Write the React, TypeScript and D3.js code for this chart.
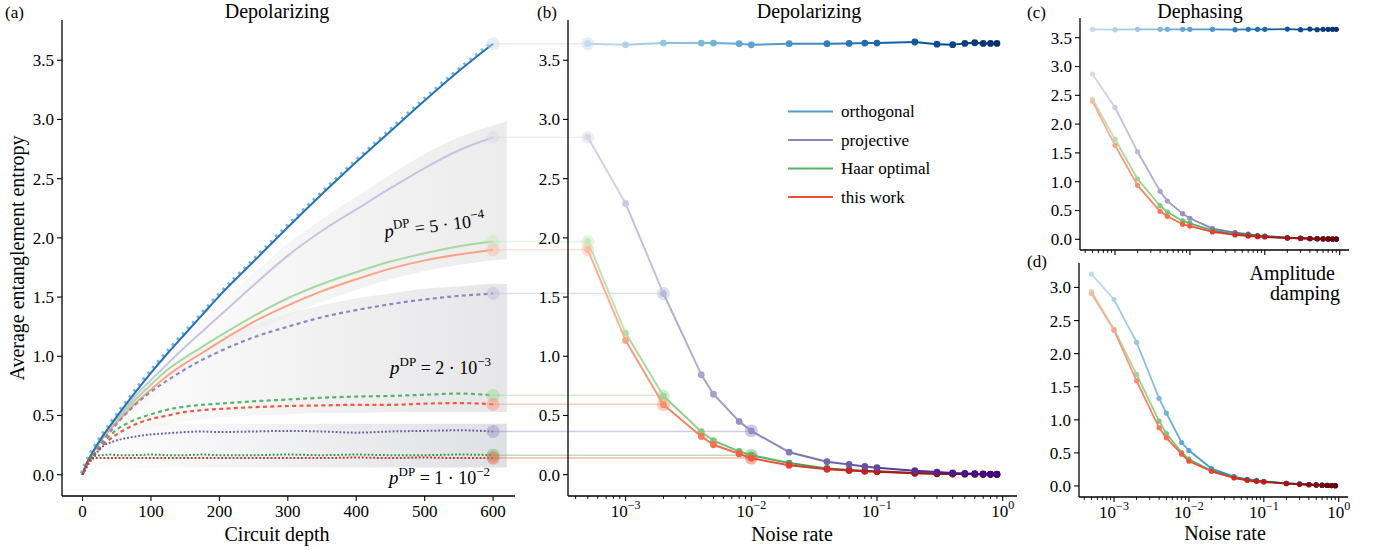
import React from 'react';
import * as d3 from 'd3';

// ---------------- data ----------------
const depths = [0, 5, 10, 20, 30, 40, 50, 75, 100, 125, 150, 175, 200, 250, 300, 350, 400, 450, 500, 550, 600];

const orthoTime = [0, 0.08, 0.14, 0.24, 0.33, 0.41, 0.49, 0.68, 0.86, 1.03, 1.19, 1.35, 1.51, 1.8, 2.09, 2.37, 2.64, 2.9, 3.16, 3.41, 3.64];
const projTime5e4 = [0, 0.08, 0.14, 0.24, 0.33, 0.4, 0.47, 0.65, 0.8, 0.94, 1.08, 1.21, 1.34, 1.6, 1.85, 2.06, 2.24, 2.42, 2.59, 2.74, 2.85];
const haarTime5e4 = [0, 0.08, 0.14, 0.23, 0.32, 0.39, 0.46, 0.62, 0.76, 0.89, 0.99, 1.08, 1.17, 1.34, 1.49, 1.61, 1.71, 1.8, 1.87, 1.93, 1.97];
const twTime5e4 = [0, 0.08, 0.13, 0.23, 0.31, 0.38, 0.44, 0.59, 0.72, 0.84, 0.94, 1.03, 1.12, 1.29, 1.43, 1.55, 1.65, 1.74, 1.81, 1.86, 1.9];
const projTime2e3 = [0, 0.07, 0.12, 0.21, 0.29, 0.36, 0.43, 0.58, 0.7, 0.8, 0.89, 0.97, 1.04, 1.16, 1.25, 1.33, 1.39, 1.44, 1.48, 1.51, 1.53];
const haarTime2e3 = [0, 0.07, 0.12, 0.2, 0.27, 0.33, 0.38, 0.46, 0.51, 0.55, 0.575, 0.59, 0.6, 0.62, 0.635, 0.65, 0.66, 0.665, 0.675, 0.685, 0.67];
const twTime2e3 = [0, 0.07, 0.12, 0.19, 0.25, 0.3, 0.34, 0.42, 0.47, 0.5, 0.53, 0.545, 0.555, 0.57, 0.58, 0.585, 0.59, 0.59, 0.6, 0.605, 0.595];
const projTime1e2 = [0, 0.05, 0.1, 0.18, 0.24, 0.27, 0.29, 0.32, 0.34, 0.35, 0.36, 0.365, 0.36, 0.365, 0.37, 0.365, 0.355, 0.365, 0.37, 0.375, 0.365];
const haarTime1e2 = [0, 0.08, 0.13, 0.16, 0.165, 0.17, 0.165, 0.165, 0.17, 0.165, 0.165, 0.17, 0.165, 0.165, 0.17, 0.165, 0.17, 0.165, 0.165, 0.17, 0.165];
const twTime1e2 = [0, 0.07, 0.12, 0.14, 0.14, 0.14, 0.14, 0.14, 0.14, 0.14, 0.14, 0.14, 0.14, 0.14, 0.14, 0.14, 0.145, 0.14, 0.145, 0.14, 0.14];

// grey shaded regions in (a)
const bandDepths = [0, 10, 25, 50, 100, 150, 200, 250, 300, 350, 400, 450, 500, 550, 600, 620];
const band1Upper = [0, 0.15, 0.33, 0.55, 0.9, 1.18, 1.44, 1.7, 1.95, 2.16, 2.35, 2.53, 2.71, 2.85, 2.95, 2.98];
const band1Lower = [0, 0.1, 0.22, 0.36, 0.63, 0.85, 1.03, 1.2, 1.34, 1.46, 1.56, 1.65, 1.72, 1.77, 1.81, 1.82];
const band2Upper = [0, 0.14, 0.32, 0.52, 0.82, 1.01, 1.16, 1.27, 1.36, 1.43, 1.49, 1.53, 1.57, 1.59, 1.61, 1.61];
const band2Lower = [0, 0.08, 0.17, 0.27, 0.39, 0.45, 0.48, 0.5, 0.51, 0.52, 0.52, 0.53, 0.53, 0.53, 0.53, 0.53];
const band3Upper = [0.43, 0.43, 0.43, 0.43, 0.43, 0.43, 0.43, 0.43, 0.43, 0.43, 0.43, 0.43, 0.43, 0.43, 0.43, 0.43];
const band3Lower = [0.06, 0.06, 0.06, 0.06, 0.06, 0.06, 0.06, 0.06, 0.06, 0.06, 0.06, 0.06, 0.06, 0.06, 0.06, 0.06];

const noiseRates = [5e-4, 1e-3, 2e-3, 4e-3, 5e-3, 8e-3, 1e-2, 2e-2, 4e-2, 6e-2, 8e-2, 0.1, 0.2, 0.3, 0.4, 0.5, 0.6, 0.7, 0.8, 0.9];

const orthoDP = [3.64, 3.63, 3.645, 3.645, 3.645, 3.64, 3.63, 3.64, 3.64, 3.642, 3.645, 3.645, 3.654, 3.636, 3.632, 3.642, 3.648, 3.642, 3.642, 3.642];
const projDP = [2.85, 2.29, 1.53, 0.845, 0.68, 0.45, 0.37, 0.19, 0.11, 0.087, 0.07, 0.059, 0.034, 0.022, 0.015, 0.011, 0.008, 0.006, 0.005, 0.004];
const haarDP = [1.97, 1.196, 0.664, 0.363, 0.287, 0.197, 0.165, 0.098, 0.053, 0.04, 0.033, 0.028, 0.015, 0.01, 0.008, 0.006, 0.005, 0.004, 0.003, 0.003];
const twDP = [1.9, 1.134, 0.591, 0.323, 0.253, 0.177, 0.14, 0.079, 0.045, 0.035, 0.028, 0.024, 0.012, 0.008, 0.006, 0.005, 0.004, 0.003, 0.003, 0.002];

const orthoDeph = [3.645, 3.64, 3.645, 3.645, 3.645, 3.645, 3.645, 3.645, 3.64, 3.645, 3.645, 3.645, 3.65, 3.64, 3.65, 3.64, 3.645, 3.645, 3.645, 3.645];
const projDeph = [2.87, 2.29, 1.52, 0.833, 0.665, 0.445, 0.365, 0.184, 0.115, 0.09, 0.065, 0.055, 0.03, 0.02, 0.015, 0.01, 0.008, 0.006, 0.005, 0.004];
const haarDeph = [2.435, 1.736, 1.047, 0.583, 0.474, 0.318, 0.278, 0.156, 0.09, 0.07, 0.06, 0.05, 0.025, 0.018, 0.013, 0.01, 0.008, 0.006, 0.005, 0.004];
const twDeph = [2.396, 1.632, 0.937, 0.486, 0.399, 0.26, 0.23, 0.127, 0.075, 0.055, 0.045, 0.04, 0.02, 0.015, 0.01, 0.008, 0.006, 0.005, 0.004, 0.003];

const orthoAD = [3.203, 2.818, 2.172, 1.324, 1.101, 0.657, 0.536, 0.263, 0.142, 0.1, 0.085, 0.07, 0.04, 0.03, 0.022, 0.016, 0.012, 0.009, 0.006, 0.004];
const haarAD = [2.94, 2.37, 1.688, 0.98, 0.793, 0.505, 0.404, 0.23, 0.13, 0.09, 0.075, 0.065, 0.04, 0.028, 0.02, 0.015, 0.011, 0.008, 0.006, 0.004];
const twAD = [2.91, 2.354, 1.59, 0.879, 0.727, 0.48, 0.374, 0.222, 0.12, 0.085, 0.07, 0.06, 0.035, 0.025, 0.018, 0.013, 0.01, 0.007, 0.005, 0.003];

const yTicksMain = [0, 0.5, 1, 1.5, 2, 2.5, 3, 3.5];
const yTicksD = [0, 0.5, 1, 1.5, 2, 2.5, 3];
const depthTicks = [0, 100, 200, 300, 400, 500, 600];
const decadeTicks = [1e-3, 1e-2, 1e-1, 1];
const legendLabels = ['orthogonal', 'projective', 'Haar optimal', 'this work'];
const highlightRates = [5e-4, 2e-3, 1e-2];

// ---------------- styles / scales ----------------
const FONT = 'Liberation Serif';
const W = 1384;
const H = 550;

const xA = d3.scaleLinear().domain([-30, 632]).range([62, 515]);
const yA = d3.scaleLinear().domain([-0.18, 3.84]).range([496, 20]);
const xB = d3.scaleLog().domain([3.48e-4, 1.3]).range([568, 1017]);
const xC = d3.scaleLog().domain([3.41e-4, 1.33]).range([1080, 1349]);
const yC = d3.scaleLinear().domain([-0.186, 3.842]).range([250, 18]);
const xD = d3.scaleLog().domain([3.41e-4, 1.33]).range([1079, 1348]);
const yD = d3.scaleLinear().domain([-0.167, 3.37]).range([497, 263]);

type Method = 'ortho' | 'proj' | 'haar' | 'tw';
const interp: Record<Method, (t: number) => string> = {
  ortho: d3.interpolateBlues,
  proj: d3.interpolatePurples,
  haar: d3.interpolateGreens,
  tw: d3.interpolateReds,
};
const L0 = Math.log10(5e-4);
const L1 = Math.log10(0.9);
const tOf = (p: number) => 0.25 + 0.75 * (Math.log10(p) - L0) / (L1 - L0);
const ptColor = (m: Method, p: number) => interp[m](tOf(p));
const legendColor = (m: Method) => interp[m](0.58);

// ---------------- helpers ----------------
function T(props: any) {
  const { size = 17, italic = false, children, ...rest } = props;
  return (
    <text fontFamily={FONT} fontSize={size} fontStyle={italic ? 'italic' : undefined} {...rest}>
      {children}
    </text>
  );
}

function YAxis({ x, scale, ticks }: any) {
  const [b, t] = scale.range();
  return (
    <g>
      <line x1={x} x2={x} y1={t} y2={b} stroke="#000" strokeWidth={1.3} />
      {ticks.map((v: number) => (
        <g key={v}>
          <line x1={x - 5} x2={x} y1={scale(v)} y2={scale(v)} stroke="#000" strokeWidth={1.1} />
          <T x={x - 8} y={scale(v)} dy="0.35em" textAnchor="end">
            {v.toFixed(1)}
          </T>
        </g>
      ))}
    </g>
  );
}

function LogXAxis({ scale, y, labels }: any) {
  const [d0, d1] = scale.domain();
  const [r0, r1] = scale.range();
  const minors: number[] = [];
  for (let e = -4; e <= 0; e++) {
    for (let k = 2; k <= 9; k++) {
      const v = k * Math.pow(10, e);
      if (v >= d0 && v <= d1) minors.push(v);
    }
  }
  return (
    <g>
      <line x1={r0} x2={r1} y1={y} y2={y} stroke="#000" strokeWidth={1.3} />
      {minors.map((v) => (
        <line key={'m' + v} x1={scale(v)} x2={scale(v)} y1={y} y2={y + 3} stroke="#000" strokeWidth={0.9} />
      ))}
      {decadeTicks.map((v) => (
        <g key={v}>
          <line x1={scale(v)} x2={scale(v)} y1={y} y2={y + 5} stroke="#000" strokeWidth={1.1} />
          {labels && (
            <T x={scale(v)} y={y + 21} textAnchor="middle">
              10
              <tspan dy={-8} fontSize={12} fontFamily={FONT}>
                {Math.round(Math.log10(v)) === 0 ? '0' : '\u2212' + Math.abs(Math.round(Math.log10(v)))}
              </tspan>
            </T>
          )}
        </g>
      ))}
    </g>
  );
}

function NoiseSeries({ xs, ys, vals, method, r, lw }: any) {
  const pts = noiseRates.map((p, i) => [xs(p), ys(vals[i])]);
  return (
    <g>
      {pts.slice(0, -1).map((pt, i) => (
        <line
          key={'s' + i}
          x1={pt[0]}
          y1={pt[1]}
          x2={pts[i + 1][0]}
          y2={pts[i + 1][1]}
          stroke={interp[method as Method]((tOf(noiseRates[i]) + tOf(noiseRates[i + 1])) / 2)}
          strokeWidth={lw}
          strokeLinecap="round"
        />
      ))}
      {pts.map((pt, i) => (
        <circle key={'c' + i} cx={pt[0]} cy={pt[1]} r={r} fill={ptColor(method, noiseRates[i])} />
      ))}
    </g>
  );
}

function PLabel({ x, y, val, exp, rotate = 0 }: any) {
  return (
    <T x={x} y={y} size={18} transform={rotate ? `rotate(${rotate} ${x} ${y})` : undefined}>
      <tspan fontStyle="italic" fontSize={19} fontFamily={FONT}>p</tspan>
      <tspan dy={-8} fontSize={13} fontFamily={FONT}>DP</tspan>
      <tspan dy={8} fontFamily={FONT}>{` = ${val} \u00b7 10`}</tspan>
      <tspan dy={-8} fontSize={13} fontFamily={FONT}>{'\u2212' + exp}</tspan>
    </T>
  );
}

export default function App() {
  const lineA = (vals: number[]) =>
    d3
      .line<number>()
      .x((_, i) => xA(depths[i]))
      .y((v) => yA(v))
      .curve(d3.curveMonotoneX)(vals) as string;

  const areaA = (lo: number[], hi: number[]) =>
    d3
      .area<number>()
      .x((_, i) => xA(bandDepths[i]))
      .y0((_, i) => yA(lo[i]))
      .y1((_, i) => yA(hi[i]))
      .curve(d3.curveMonotoneX)(bandDepths) as string;

  const timeSeries: { vals: number[]; color: string; dash?: string; w: number }[] = [
    { vals: projTime5e4, color: '#c7c4e2', w: 2 },
    { vals: haarTime5e4, color: '#a6d99f', w: 2 },
    { vals: twTime5e4, color: '#fba283', w: 2 },
    { vals: projTime2e3, color: '#8f87c3', dash: '4 3.3', w: 2.2 },
    { vals: haarTime2e3, color: '#55b567', dash: '4 3.3', w: 2.2 },
    { vals: twTime2e3, color: '#ef5a3f', dash: '4 3.3', w: 2.2 },
    { vals: projTime1e2, color: '#6b55a5', dash: '1.8 2', w: 2 },
    { vals: haarTime1e2, color: '#2b9447', dash: '1.8 2', w: 2 },
    { vals: twTime1e2, color: '#d42a22', dash: '1.8 2', w: 2 },
  ];

  const links: { m: Method; p: number; vA: number; vB: number }[] = [];
  const groupsA: [Method, number[][]][] = [
    ['ortho', [orthoTime]],
    ['proj', [projTime5e4, projTime2e3, projTime1e2]],
    ['haar', [haarTime5e4, haarTime2e3, haarTime1e2]],
    ['tw', [twTime5e4, twTime2e3, twTime1e2]],
  ];
  const dpVals: Record<Method, number[]> = { ortho: orthoDP, proj: projDP, haar: haarDP, tw: twDP };
  groupsA.forEach(([m, arrs]) => {
    arrs.forEach((arr, k) => {
      const p = highlightRates[k];
      links.push({ m, p, vA: arr[arr.length - 1], vB: dpVals[m][noiseRates.indexOf(p)] });
    });
  });

  const lastDepth = depths[depths.length - 1];

  return (
    <svg
      width={W}
      height={H}
      viewBox={`0 0 ${W} ${H}`}
      fontFamily={FONT}
      style={{ position: 'absolute', left: 0, top: 0, background: '#fff' }}
    >
      <defs>
        {[
          ['g1', '#ececec'],
          ['g2', '#e6e6e8'],
          ['g3', '#dfe0e4'],
        ].map(([id, c]) => (
          <linearGradient key={id} id={id} gradientUnits="userSpaceOnUse" x1={xA(0)} x2={xA(620)} y1={0} y2={0}>
            <stop offset="0" stopColor={c} stopOpacity={0} />
            <stop offset="1" stopColor={c} stopOpacity={1} />
          </linearGradient>
        ))}
      </defs>

      {/* ---------- panel (a) ---------- */}
      <path d={areaA(band1Lower, band1Upper)} fill="url(#g1)" />
      <path d={areaA(band2Lower, band2Upper)} fill="url(#g2)" />
      <path d={areaA(band3Lower, band3Upper)} fill="url(#g3)" />

      {links.map((l, i) => (
        <line
          key={'l' + i}
          x1={xA(lastDepth)}
          x2={xB(l.p)}
          y1={yA(l.vA)}
          y2={yA(l.vA)}
          stroke={ptColor(l.m, l.p)}
          strokeOpacity={0.45}
          strokeWidth={1.5}
        />
      ))}

      {timeSeries.slice(0, 3).map((s, i) => (
        <path key={'t' + i} d={lineA(s.vals)} fill="none" stroke={s.color} strokeWidth={s.w} />
      ))}
      <path d={lineA(orthoTime)} fill="none" stroke="#7ab6d9" strokeWidth={2.6} strokeDasharray="2.5 5" transform="translate(-1.3,-1.5)" />
      <path d={lineA(orthoTime)} fill="none" stroke="#2272b5" strokeWidth={2} />
      {timeSeries.slice(3).map((s, i) => (
        <path key={'u' + i} d={lineA(s.vals)} fill="none" stroke={s.color} strokeWidth={s.w} strokeDasharray={s.dash} />
      ))}

      {links.map((l, i) => (
        <circle key={'ha' + i} cx={xA(lastDepth)} cy={yA(l.vA)} r={6.5} fill={ptColor(l.m, l.p)} fillOpacity={0.45} />
      ))}

      <PLabel x={385} y={238} val="5" exp="4" rotate={-7} />
      <PLabel x={390} y={374} val="2" exp="3" />
      <PLabel x={389} y={484} val="1" exp="2" />

      <YAxis x={62} scale={yA} ticks={yTicksMain} />
      <line x1={62} x2={515} y1={496} y2={496} stroke="#000" strokeWidth={1.3} />
      {depthTicks.map((v) => (
        <g key={v}>
          <line x1={xA(v)} x2={xA(v)} y1={496} y2={501} stroke="#000" strokeWidth={1.1} />
          <T x={xA(v)} y={517} textAnchor="middle">
            {v}
          </T>
        </g>
      ))}
      <T x={277} y={18} size={20} textAnchor="middle">Depolarizing</T>
      <T x={277} y={541} size={20} textAnchor="middle">Circuit depth</T>
      <T transform="translate(24,258) rotate(-90)" size={20} textAnchor="middle">
        Average entanglement entropy
      </T>
      <T x={5} y={18}>(a)</T>

      {/* ---------- panel (b) ---------- */}
      {links.map((l, i) => (
        <circle key={'hb' + i} cx={xB(l.p)} cy={yA(l.vB)} r={6.5} fill={ptColor(l.m, l.p)} fillOpacity={0.45} />
      ))}
      <NoiseSeries xs={xB} ys={yA} vals={orthoDP} method="ortho" r={3.4} lw={2} />
      <NoiseSeries xs={xB} ys={yA} vals={haarDP} method="haar" r={3.4} lw={2} />
      <NoiseSeries xs={xB} ys={yA} vals={twDP} method="tw" r={3.4} lw={2} />
      <NoiseSeries xs={xB} ys={yA} vals={projDP} method="proj" r={3.4} lw={2} />
      <YAxis x={568} scale={yA} ticks={yTicksMain} />
      <LogXAxis scale={xB} y={496} labels={true} />
      <T x={809} y={18} size={20} textAnchor="middle">Depolarizing</T>
      <T x={792} y={541} size={20} textAnchor="middle">Noise rate</T>
      <T x={537} y={18}>(b)</T>
      {(['ortho', 'proj', 'haar', 'tw'] as Method[]).map((m, i) => (
        <g key={m}>
          <line x1={788} x2={833} y1={111.5 + i * 28.5} y2={111.5 + i * 28.5} stroke={legendColor(m)} strokeWidth={2} />
          <T x={841} y={111.5 + i * 28.5} dy="0.33em">
            {legendLabels[i]}
          </T>
        </g>
      ))}

      {/* ---------- panel (c) ---------- */}
      <NoiseSeries xs={xC} ys={yC} vals={orthoDeph} method="ortho" r={2.6} lw={1.8} />
      <NoiseSeries xs={xC} ys={yC} vals={projDeph} method="proj" r={2.6} lw={1.8} />
      <NoiseSeries xs={xC} ys={yC} vals={haarDeph} method="haar" r={2.6} lw={1.8} />
      <NoiseSeries xs={xC} ys={yC} vals={twDeph} method="tw" r={2.6} lw={1.8} />
      <YAxis x={1080} scale={yC} ticks={yTicksMain} />
      <LogXAxis scale={xC} y={250} labels={false} />
      <T x={1200} y={18} size={20} textAnchor="middle">Dephasing</T>
      <T x={1027} y={18}>(c)</T>

      {/* ---------- panel (d) ---------- */}
      <NoiseSeries xs={xD} ys={yD} vals={orthoAD} method="ortho" r={2.6} lw={1.8} />
      <NoiseSeries xs={xD} ys={yD} vals={haarAD} method="haar" r={2.6} lw={1.8} />
      <NoiseSeries xs={xD} ys={yD} vals={twAD} method="tw" r={2.6} lw={1.8} />
      <YAxis x={1079} scale={yD} ticks={yTicksD} />
      <LogXAxis scale={xD} y={497} labels={true} />
      <T x={1335} y={280} size={20} textAnchor="end">Amplitude</T>
      <T x={1340} y={300} size={20} textAnchor="end">damping</T>
      <T x={1225} y={540} size={20} textAnchor="middle">Noise rate</T>
      <T x={1027} y={267}>(d)</T>
    </svg>
  );
}
